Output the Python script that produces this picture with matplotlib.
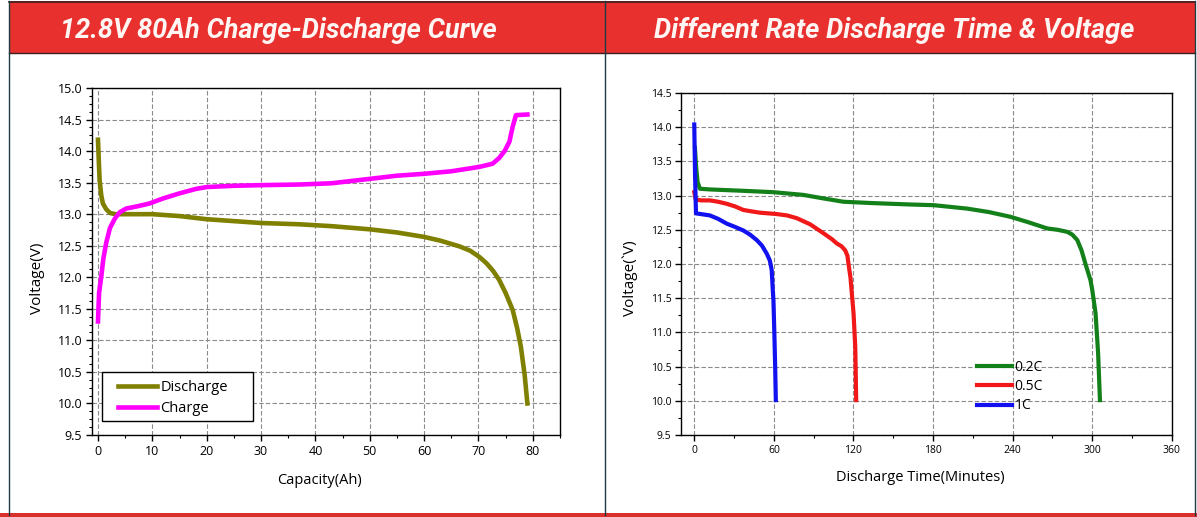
import matplotlib

matplotlib.use("Agg")

import matplotlib.pyplot as plt
from matplotlib.patches import Rectangle
from matplotlib.ticker import FormatStrFormatter, MultipleLocator

# left panel: 12.8V 80Ah charge / discharge
dis_cap = [0, 0.15, 0.3, 0.6, 0.9, 1.5, 2.2, 3.2, 4.6, 7, 10, 15, 20, 25, 30, 37, 43,
           50, 55, 60, 63, 66.5, 68.5, 70.2, 71.5, 72.7, 73.8, 75, 76.3, 77.1, 77.8, 78.5, 79.0]
dis_volt = [14.18, 13.85, 13.54, 13.3, 13.17, 13.08, 13.02, 13.0, 13.0, 13.0, 13.0, 12.97,
            12.92, 12.89, 12.86, 12.84, 12.81, 12.76, 12.71, 12.64, 12.58, 12.49, 12.42,
            12.32, 12.22, 12.10, 11.96, 11.75, 11.48, 11.2, 10.9, 10.45, 10.0]

chg_cap = [0, 0.2, 0.6, 1.0, 1.5, 2.2, 3.1, 4.0, 5.2, 7, 9.5, 12, 15, 18, 20, 25, 30, 37,
           43, 50, 55, 60, 65, 70.2, 72.6, 73.8, 74.8, 75.7, 76.3, 76.9, 79.0]
chg_volt = [11.30, 11.75, 12.01, 12.3, 12.54, 12.78, 12.93, 13.03, 13.09, 13.12, 13.17,
            13.25, 13.33, 13.40, 13.43, 13.45, 13.46, 13.47, 13.49, 13.56, 13.61, 13.64,
            13.68, 13.75, 13.80, 13.89, 14.0, 14.15, 14.39, 14.57, 14.58]

# right panel: discharge time at different rates
t_02c = [0.5, 1.5, 2.5, 4.3, 11.8, 37, 59.7, 82.3, 97, 112.5, 135, 162.9, 180.5, 205.7, 222,
         238.4, 252, 266.1, 274, 281.2, 285, 288.8, 292, 295, 298.8, 300.1, 302.6, 304.5, 305.9]
v_02c = [13.7, 13.4, 13.2, 13.10, 13.09, 13.07, 13.05, 13.01, 12.96, 12.91, 12.89,
         12.87, 12.86, 12.81, 12.76, 12.69, 12.61, 12.52, 12.50, 12.47, 12.43, 12.35, 12.2,
         12.0, 11.76, 11.62, 11.28, 10.7, 10.01]

t_05c = [0, 1, 2, 5, 11.8, 18, 24.5, 31, 37, 43, 49.6, 56, 62.2, 70, 77.3, 87.4, 97.4, 104,
         107.5, 111, 113.8, 115.5, 116.3, 117.8, 118.9, 120.1, 121.4, 122.1]
v_05c = [13.05, 12.95, 12.94, 12.93, 12.93, 12.91, 12.88, 12.84, 12.79, 12.77, 12.75, 12.74,
         12.73, 12.71, 12.67, 12.58, 12.45, 12.36, 12.30, 12.26, 12.20, 12.12, 12.0, 11.8,
         11.55, 11.28, 10.79, 10.01]

t_1c = [0, 0.6, 1.3, 5, 11.8, 18, 24.5, 31, 37, 42, 47.1, 51, 54.7, 57, 58.4, 59.2, 59.7,
        60.4, 61.0, 61.5]
v_1c = [14.04, 13.3, 12.74, 12.73, 12.71, 12.66, 12.59, 12.54, 12.49, 12.43, 12.35, 12.27,
        12.15, 12.05, 11.91, 11.62, 11.47, 10.98, 10.5, 10.01]

TITLES = ["12.8V 80Ah Charge-Discharge Curve", "Different Rate Discharge Time & Voltage"]
RED = "#e8302e"
GRID = dict(color="#8a8a8a", linestyle=(0, (4, 2)), linewidth=0.8)

plt.rcParams["font.family"] = ["Open Sans", "DejaVu Sans"]

W, H = 1197, 517
fig = plt.figure(figsize=(W / 100, H / 100), dpi=100)

# page decoration in pixel space
bg = fig.add_axes([0, 0, 1, 1], zorder=-5)
bg.set_xlim(0, W)
bg.set_ylim(H, 0)
bg.set_axis_off()
bg.add_patch(Rectangle((9, 1), 1186, 52, facecolor=RED, edgecolor="none"))
bg.plot([9, 1195], [1.5, 1.5], color="#3a2020", lw=1.2)
bg.plot([9, 1195], [53, 53], color="#3a2020", lw=1.0)
bg.plot([9, 9], [1, 515], color="#203a44", lw=1.0)
bg.plot([1195, 1195], [1, 515], color="#203a44", lw=1.0)
bg.plot([605, 605], [1, 515], color="#203a44", lw=1.0)
bg.add_patch(Rectangle((0, 513), W, 4, facecolor="#d8302c", edgecolor="none"))
for x, title in zip((278, 894), TITLES):
    bg.text(x, 38, title, ha="center", va="baseline", color="#fff6f4", fontsize=19.5,
            fontweight="bold", style="italic", family="Roboto")


def style_axes(ax, labelsize):
    ax.grid(True, which="major", **GRID)
    ax.set_axisbelow(True)
    ax.tick_params(which="major", direction="out", length=4, width=1,
                   labelsize=labelsize, pad=3)
    ax.tick_params(which="minor", direction="out", length=2.5, width=0.8)
    ax.yaxis.set_major_formatter(FormatStrFormatter("%.1f"))
    for s in ax.spines.values():
        s.set_linewidth(1.0)
        s.set_color("black")


# left chart
ax1 = fig.add_axes([92 / W, 1 - 435 / H, 468 / W, 347 / H])
ax1.plot(dis_cap, dis_volt, color="#7f7f00", lw=3.3, label="Discharge")
ax1.plot(chg_cap, chg_volt, color="#ff00ff", lw=3.3, label="Charge")
ax1.set_xlim(-1.1, 85)
ax1.set_ylim(9.5, 15.0)
ax1.xaxis.set_major_locator(MultipleLocator(10))
ax1.xaxis.set_minor_locator(MultipleLocator(5))
ax1.yaxis.set_major_locator(MultipleLocator(0.5))
ax1.yaxis.set_minor_locator(MultipleLocator(0.125))
style_axes(ax1, 9)
ax1.set_xlabel("Capacity(Ah)", fontsize=10.5)
ax1.set_ylabel("Voltage(V)", fontsize=11)
ax1.xaxis.set_label_coords(0.487, -0.1095)
ax1.yaxis.set_label_coords(-0.100, 0.452)
# legend box drawn separately so the text can sit left inside it
ax1.add_patch(Rectangle((10 / 468, 14 / 347), 151 / 468, 49 / 347, transform=ax1.transAxes,
                        facecolor="white", edgecolor="black", lw=1.0, zorder=4.5))
ax1.legend(loc="upper left", bbox_to_anchor=(0.0554, 0.158), borderaxespad=0, frameon=False,
           fontsize=10.5, handlelength=2.7, handletextpad=0.2, labelspacing=0.4, borderpad=0)

# right chart
ax2 = fig.add_axes([681 / W, 1 - 435 / H, 490.7 / W, 342 / H])
ax2.plot(t_02c, v_02c, color="#13801a", lw=3.0, label="0.2C")
ax2.plot(t_05c, v_05c, color="#f01818", lw=3.0, label="0.5C")
ax2.plot(t_1c, v_1c, color="#1212f0", lw=3.0, label="1C")
ax2.set_xlim(-10, 360)
ax2.set_ylim(9.5, 14.5)
ax2.xaxis.set_major_locator(MultipleLocator(60))
ax2.xaxis.set_minor_locator(MultipleLocator(30))
ax2.yaxis.set_major_locator(MultipleLocator(0.5))
ax2.yaxis.set_minor_locator(MultipleLocator(0.25))
style_axes(ax2, 7.5)
ax2.set_xlabel("Discharge Time(Minutes)", fontsize=10.5)
ax2.set_ylabel("Voltage(`V)", fontsize=11)
ax2.xaxis.set_label_coords(0.487, -0.102)
ax2.yaxis.set_label_coords(-0.0876, 0.458)
ax2.legend(loc="upper left", bbox_to_anchor=(0.603, 0.219), borderaxespad=0, frameon=False,
           fontsize=10, handlelength=2.5, handletextpad=0.2, labelspacing=0.3, borderpad=0)

fig.savefig("out.png", dpi=100, facecolor="white")
